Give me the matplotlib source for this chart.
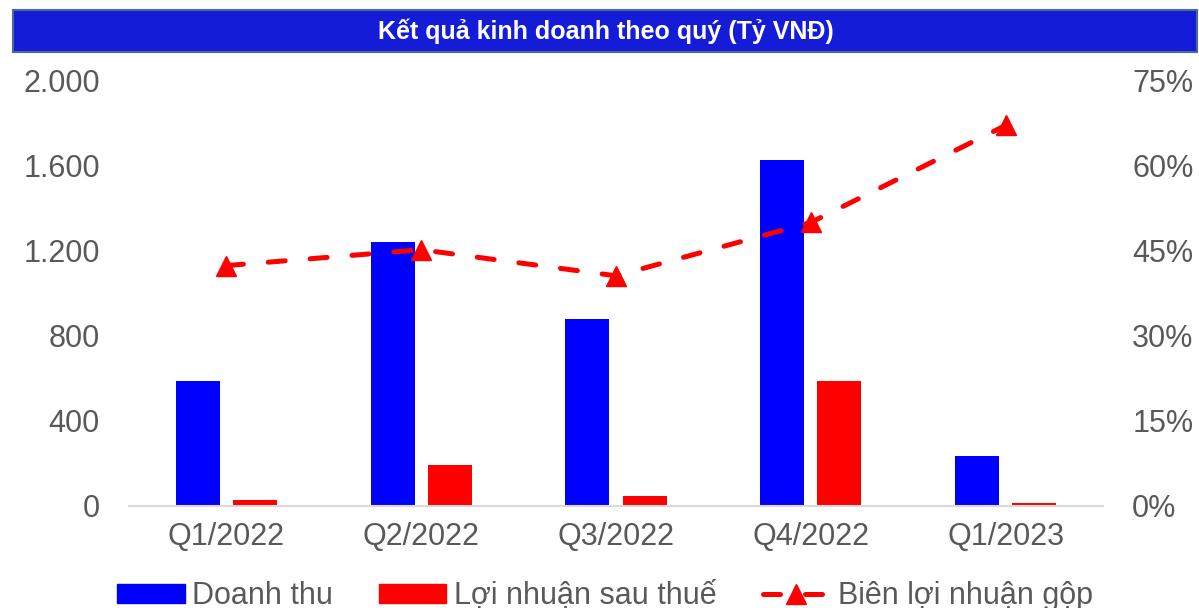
import matplotlib
matplotlib.use('Agg')
import matplotlib.pyplot as plt
import numpy as np
from matplotlib.patches import Rectangle, Patch
from matplotlib.lines import Line2D
from matplotlib.ticker import FuncFormatter

plt.rcParams['font.family'] = ['Liberation Sans', 'DejaVu Sans']

quarters = ['Q1/2022', 'Q2/2022', 'Q3/2022', 'Q4/2022', 'Q1/2023']
doanh_thu = [584, 1237, 878, 1626, 233]
loi_nhuan = [29, 189, 46, 586, 12]
bien_lnr = [42.3, 45.1, 40.5, 49.9, 67.0]

grey = '#595959'

fig = plt.figure(figsize=(11.99, 6.08), dpi=100)
ax = fig.add_axes([129/1199, 1 - 505.7/608, 974/1199, (505.7 - 80)/608])
ax2 = ax.twinx()

x = np.arange(len(quarters))
w = 0.226
ax.bar(x - 0.147, doanh_thu, w, color='#0000FF', zorder=2)
ax.bar(x + 0.147, loi_nhuan, w, color='#FF0000', zorder=2)

ax.set_xlim(-0.5, 4.5)
ax.set_ylim(0, 2000)
ax.set_yticks([0, 400, 800, 1200, 1600, 2000])
ax.yaxis.set_major_formatter(FuncFormatter(lambda v, p: f"{int(v):,}".replace(',', '.')))
ax.set_xticks(x)
ax.set_xticklabels(quarters)

ax2.plot(x, bien_lnr, color='#FF0000', lw=3.6, linestyle=(0, (3.4, 5.0)),
         dash_capstyle='round', marker='^', markersize=14.5, zorder=3)
ax2.set_ylim(0, 75)
ax2.set_yticks([0, 15, 30, 45, 60, 75])
ax2.yaxis.set_major_formatter(FuncFormatter(lambda v, p: f"{int(v)}%"))

for a in (ax, ax2):
    for s in a.spines.values():
        s.set_visible(False)
    a.tick_params(length=0, labelsize=22, labelcolor=grey)
ax.spines['bottom'].set_visible(True)
ax.spines['bottom'].set_color('#D9D9D9')
ax.spines['bottom'].set_linewidth(1.5)
ax.tick_params(axis='y', pad=21)
ax.tick_params(axis='x', pad=12)
ax2.tick_params(axis='y', pad=21)

# title bar
fig.patches.append(Rectangle((13/1199, 1 - 52/608), 1184/1199, 42/608,
                             transform=fig.transFigure, facecolor='#141CD8',
                             edgecolor='#4A6A9A', lw=1.5))
fig.text(606/1199, 1 - 31/608, 'Kết quả kinh doanh theo quý (Tỷ VNĐ)',
         ha='center', va='center', color='white', fontsize=18, fontweight='bold')

handles = [Patch(color='#0000FF'), Patch(color='#FF0000'),
           Line2D([], [], color='#FF0000', lw=3.6, linestyle=(0, (3.4, 5.0)),
                  dash_capstyle='round', marker='^', markersize=14.5)]
labels = ['Doanh thu', 'Lợi nhuận sau thuế', 'Biên lợi nhuận gộp']
leg = fig.legend(handles, labels, loc='center left', bbox_to_anchor=(102/1199, 0.019), ncol=3,
                 frameon=False, fontsize=22, handlelength=2.2, handleheight=0.55,
                 handletextpad=0.26, columnspacing=1.5, labelcolor=grey, borderpad=0)

fig.savefig('out.png', dpi=100)
